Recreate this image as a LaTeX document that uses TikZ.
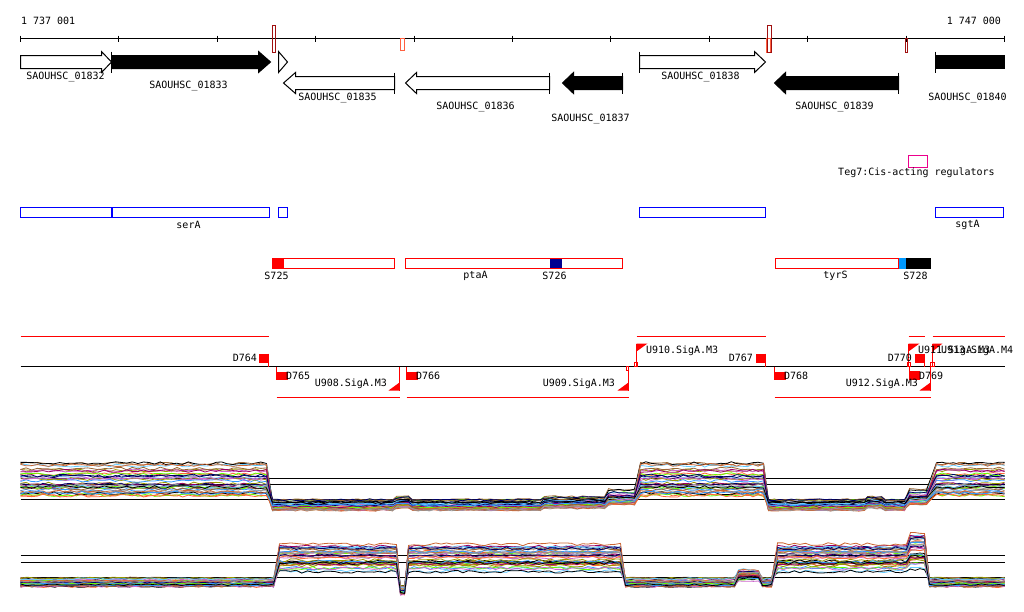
\documentclass[tikz,border=0pt]{standalone}
\usepackage{fontspec}
\newfontfamily\monofont{DejaVu Sans Mono}
\definecolor{darkbox}{HTML}{A01010}
\definecolor{salmonbox}{HTML}{FF6040}
\definecolor{navysite}{HTML}{000090}
\definecolor{skysite}{HTML}{0099FF}
\definecolor{tr0}{HTML}{000000}
\definecolor{tr1}{HTML}{FF6633}
\definecolor{tr2}{HTML}{999900}
\definecolor{tr3}{HTML}{66FF00}
\definecolor{tr4}{HTML}{66CCFF}
\definecolor{tr5}{HTML}{CC66CC}
\definecolor{tr6}{HTML}{996633}
\definecolor{tr7}{HTML}{990066}
\definecolor{tr8}{HTML}{000066}
\definecolor{tr9}{HTML}{CC6633}
\definecolor{tr10}{HTML}{999999}
\definecolor{tr11}{HTML}{3399FF}
\begin{document}
\begin{tikzpicture}[x=1pt, y=-1pt, line width=1pt,
    font=\monofont\fontsize{10}{12}\selectfont,
    lbl/.style={inner sep=0pt},
    gene/.style={draw=black, fill=white},
    solid gene/.style={draw=black, fill=black},
    locus/.style={draw=blue},
    operon/.style={draw=red},
    siteline/.style={draw=red},
    trace/.style={line width=0.8pt}]
    \useasboundingbox (-0.5,-0.5) rectangle (1023.5,610.5);

    \draw (20,38) -- (1004,38);
    \foreach \i in {0,...,10}
        \draw ({20+round(98.4*\i)},35) -- ({20+round(98.4*\i)},41);
    \draw[darkbox] (272,25) rectangle (275,52);
    \draw[salmonbox] (400,38) rectangle (404,50);
    \draw[salmonbox] (766,38) rectangle (770,52);
    \draw[darkbox] (767,25) rectangle (771,52);
    \draw[darkbox] (905,38) rectangle (907,52);
    \node[lbl, anchor=west] (startpos) at (20,20) {1 737 001};
    \node[lbl, anchor=east] (endpos) at (1001,20) {1 747 000};

    \draw[gene] (20,55) -- (101,55) -- (101,51) -- (111,61.5) -- (101,72) -- (101,68) -- (20,68) -- cycle;
    \draw[solid gene] (111,55) -- (258,55) -- (258,51) -- (270,61.5) -- (258,72) -- (258,68) -- (111,68) -- cycle;
    \draw (111,51) -- (111,72);
    \draw (278,51) -- (287,61.5) -- (278,72) -- cycle;
    \draw[gene] (283,82.5) -- (295,72) -- (295,76) -- (394,76) -- (394,89) -- (295,89) -- (295,93) -- cycle;
    \draw (394,72) -- (394,93);
    \draw[gene] (405,82.5) -- (416,72) -- (416,76) -- (549,76) -- (549,89) -- (416,89) -- (416,93) -- cycle;
    \draw (549,72) -- (549,93);
    \draw[solid gene] (562,82.5) -- (573,72) -- (573,76) -- (622,76) -- (622,89) -- (573,89) -- (573,93) -- cycle;
    \draw (622,72) -- (622,93);
    \draw[gene] (639,55) -- (754,55) -- (754,51) -- (765,61.5) -- (754,72) -- (754,68) -- (639,68) -- cycle;
    \draw (639,51) -- (639,72);
    \draw[solid gene] (774,82.5) -- (785,72) -- (785,76) -- (898,76) -- (898,89) -- (785,89) -- (785,93) -- cycle;
    \draw (898,72) -- (898,93);
    \draw[solid gene] (935,55) rectangle (1004,68);
    \draw (935,51) -- (935,72);
    \node[lbl] (g1832) at (65,76) {SAOUHSC\_01832};
    \node[lbl] (g1833) at (188,85) {SAOUHSC\_01833};
    \node[lbl] (g1835) at (337,97) {SAOUHSC\_01835};
    \node[lbl] (g1836) at (475,106) {SAOUHSC\_01836};
    \node[lbl] (g1837) at (590,118) {SAOUHSC\_01837};
    \node[lbl] (g1838) at (700,76) {SAOUHSC\_01838};
    \node[lbl] (g1839) at (834,106) {SAOUHSC\_01839};
    \node[lbl] (g1840) at (967,97) {SAOUHSC\_01840};

    \draw[magenta] (908,155) rectangle (927,167);
    \node[lbl] (teg) at (916,172) {Teg7:Cis-acting regulators};

    \draw[locus] (20,207) rectangle (111,217);
    \draw[locus] (111,207) rectangle (269,217);
    \draw[locus, line width=2pt] (111.5,207) -- (111.5,217);
    \draw[locus] (278,207) rectangle (287,217);
    \draw[locus] (639,207) rectangle (765,217);
    \draw[locus] (935,207) rectangle (1003,217);
    \node[lbl] (sera) at (188,224) {serA};
    \node[lbl] (sgta) at (967,224) {sgtA};

    \fill[red] (272,258) rectangle (283,268);
    \draw[operon] (272,258) rectangle (394,268);
    \draw[operon] (405,258) rectangle (622,268);
    \fill[navysite] (549,258.5) rectangle (561,267.5);
    \draw[operon] (775,258) rectangle (898,268);
    \fill[skysite] (898,257.5) rectangle (905,268.5);
    \fill[black] (905,257.5) rectangle (930,268.5);
    \node[lbl] (s725) at (276,275) {S725};
    \node[lbl] (ptaa) at (475,275) {ptaA};
    \node[lbl] (s726) at (554,275) {S726};
    \node[lbl] (tyrs) at (835,275) {tyrS};
    \node[lbl] (s728) at (915,275) {S728};

    \draw (20,366) -- (1004,366);
    \draw[siteline] (20,336) -- (268,336);
    \draw[siteline] (636,336) -- (765,336);
    \draw[siteline] (908,336) -- (924,336);
    \draw[siteline] (932,336) -- (1004,336);
    \draw[siteline] (276,397) -- (399,397);
    \draw[siteline] (406,397) -- (628,397);
    \draw[siteline] (774,397) -- (930,397);

    \fill[red] (258,353) rectangle (268,362);
    \draw[siteline] (268,353) -- (268,366);
    \fill[red] (276,371) rectangle (287,379);
    \draw[siteline] (276,366) -- (276,379);
    \fill[red] (406,371) rectangle (417,379);
    \draw[siteline] (406,366) -- (406,379);
    \fill[red] (755,353) rectangle (765,362);
    \draw[siteline] (765,353) -- (765,366);
    \fill[red] (774,371) rectangle (785,379);
    \draw[siteline] (774,366) -- (774,379);
    \fill[red] (914,353) rectangle (924,362);
    \draw[siteline] (924,353) -- (924,366);
    \fill[red] (909,370) rectangle (919,379);
    \draw[siteline] (909,366) -- (909,379);

    \fill[red] (388,390) -- (399,390) -- (399,382) -- cycle;
    \draw[siteline] (399,366) -- (399,390);
    \fill[red] (617,390) -- (628,390) -- (628,382) -- cycle;
    \draw[siteline] (628,366) -- (628,390);
    \draw[siteline, line width=0.7pt] (626,366) rectangle (628,370);
    \fill[red] (919,390) -- (930,390) -- (930,382) -- cycle;
    \draw[siteline] (930,366) -- (930,390);
    \fill[red] (636,343) -- (647,343) -- (636,351) -- cycle;
    \draw[siteline] (636,343) -- (636,366);
    \draw[siteline, line width=0.7pt] (634,362) rectangle (637,366);
    \fill[red] (908,343) -- (919,343) -- (908,351) -- cycle;
    \draw[siteline] (908,343) -- (908,366);
    \draw[siteline, line width=0.7pt] (907,362) rectangle (910,366);
    \fill[red] (932,343) -- (942,343) -- (932,351) -- cycle;
    \draw[siteline] (932,343) -- (932,366);
    \draw[siteline, line width=0.7pt] (930,362) rectangle (934,366);

    \node[lbl, anchor=east] (d764) at (257,357) {D764};
    \node[lbl, anchor=west] (d765) at (285,375) {D765};
    \node[lbl, anchor=west] (d766) at (415,375) {D766};
    \node[lbl, anchor=east] (d767) at (753,357) {D767};
    \node[lbl, anchor=west] (d768) at (783,375) {D768};
    \node[lbl, anchor=east] (d770) at (912,357) {D770};
    \node[lbl, anchor=west] (d769) at (918,375) {D769};
    \node[lbl, anchor=east] (u908) at (387,383) {U908.SigA.M3};
    \node[lbl, anchor=east] (u909) at (615,383) {U909.SigA.M3};
    \node[lbl, anchor=west] (u910) at (645,350) {U910.SigA.M3};
    \node[lbl, anchor=east] (u912) at (918,383) {U912.SigA.M3};
    \node[lbl, anchor=west] (u911) at (917,350) {U911.SigA.M3};
    \node[lbl, anchor=west] (u913) at (940,350) {U913.SigA.M4};

    \draw (20,478) -- (1004,478);
    \draw (20,484) -- (1004,484);
    \draw (20,499) -- (1004,499);
    \draw (20,555) -- (1004,555);
    \draw (20,562) -- (1004,562);
    \draw (20,577) -- (1004,577);
    \pgfmathsetseed{11}
    \foreach \k in {1,...,36}{
        \pgfmathsetmacro{\hu}{499-34*rnd-3}
        \pgfmathsetmacro{\lu}{499+11*rnd}
        \pgfmathsetmacro{\hl}{577-32*rnd-2}
        \pgfmathsetmacro{\ll}{577+9*rnd}
        \pgfmathsetmacro{\ua}{0.9*\lu+0.1*\hu}
        \pgfmathsetmacro{\ub}{0.7*\lu+0.3*\hu}
        \pgfmathsetmacro{\la}{0.7*\ll+0.3*\hl}
        \pgfmathsetmacro{\lb}{1.3*\hl-0.3*\ll}
        \pgfmathtruncatemacro{\ci}{mod(\k,12)}
        \draw[trace, draw=tr\ci]
            plot[domain=20:266, samples=45] (\x, {\hu+3*rnd-1.5})
            -- plot[domain=272:392, samples=22] (\x, {\lu+2*rnd-1})
            -- plot[domain=396:408, samples=3] (\x, {\ua+2*rnd-1})
            -- plot[domain=412:540, samples=24] (\x, {\lu+2*rnd-1})
            -- plot[domain=544:604, samples=12] (\x, {\ua+2*rnd-1})
            -- plot[domain=608:634, samples=6] (\x, {\ub+2*rnd-1})
            -- plot[domain=640:763, samples=24] (\x, {\hu+3*rnd-1.5})
            -- plot[domain=768:864, samples=18] (\x, {\lu+2*rnd-1})
            -- plot[domain=867:881, samples=4] (\x, {\ua+2*rnd-1})
            -- plot[domain=885:904, samples=4] (\x, {\lu+2*rnd-1})
            -- plot[domain=909:926, samples=4] (\x, {\ub+2*rnd-1})
            -- plot[domain=936:1004, samples=13] (\x, {\hu+3*rnd-1.5});
        \draw[trace, draw=tr\ci]
            plot[domain=20:273, samples=45] (\x, {\ll+2*rnd-1})
            -- plot[domain=279:396, samples=22] (\x, {\hl+3*rnd-1.5})
            -- plot[domain=400:404, samples=2] (\x, {\ll+8+2*rnd-1})
            -- plot[domain=408:620, samples=40] (\x, {\hl+3*rnd-1.5})
            -- plot[domain=625:734, samples=20] (\x, {\ll+2*rnd-1})
            -- plot[domain=738:758, samples=5] (\x, {\la+2*rnd-1})
            -- plot[domain=762:771, samples=3] (\x, {\ll+2*rnd-1})
            -- plot[domain=777:906, samples=24] (\x, {\hl+3*rnd-1.5})
            -- plot[domain=910:924, samples=4] (\x, {\lb+2*rnd-1})
            -- plot[domain=929:1004, samples=14] (\x, {\ll+2*rnd-1});
    }
\end{tikzpicture}
\end{document}
